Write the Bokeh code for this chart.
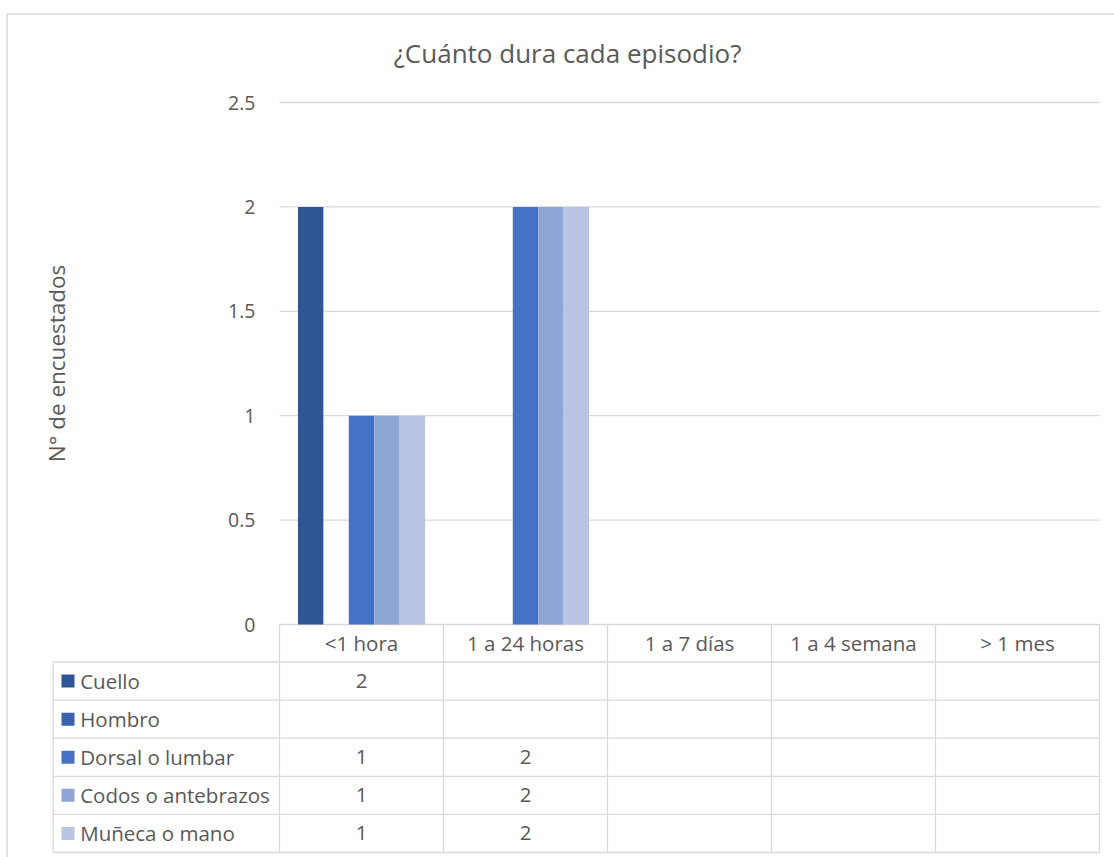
from bokeh.plotting import figure
from bokeh.models import (Range1d, LinearAxis, FixedTicker, NumeralTickFormatter,
                          ColumnDataSource, Label)
from bokeh.embed import file_html
from bokeh.resources import INLINE
from bokeh.core.properties import value

# ---------------- data ----------------
categories = ["<1 hora", "1 a 24 horas", "1 a 7 días", "1 a 4 semana", "> 1 mes"]
series_names = ["Cuello", "Hombro", "Dorsal o lumbar", "Codos o antebrazos", "Muñeca o mano"]
cuello = [2, None, None, None, None]
hombro = [None, None, None, None, None]
dorsal = [1, 2, None, None, None]
codos = [1, 2, None, None, None]
muneca = [1, 2, None, None, None]
series_values = [cuello, hombro, dorsal, codos, muneca]
colors = ["#2F5597", "#3A63AE", "#4472C4", "#8FA5D5", "#B9C3E2"]
y_ticks = [0, 0.5, 1, 1.5, 2, 2.5]
title_text = "¿Cuánto dura cada episodio?"
y_label = "N° de encuestados"

# ---------------- layout constants (pixels) ----------------
FONT = "Open Sans"
TXT = "#595959"
GRID = "#D9D9D9"
FS = "20.5px"
TICK_FS = "19.5px"
W, H = 1114, 857
PLOT_L = 279            # left edge of the category area
ZERO_Y = 624            # pixel row of y = 0
UNIT_PX = 164.0         # pixels per category
Y_PX = 208.8            # pixels per y unit
HEADER_PX = 37.5
ROW_PX = 38.1
TABLE_L_PX = 52.7
n = len(categories)
ns = len(series_names)
bar_w = 0.155


def px_x(px):
    return (px - PLOT_L) / UNIT_PX


def px_y(py):
    return (ZERO_Y - py) / Y_PX


p = figure(width=W, height=H, x_range=Range1d(px_x(0), px_x(W)),
           y_range=Range1d(px_y(H), px_y(0)),
           x_axis_type=None, y_axis_type=None,
           output_backend="svg", toolbar_location=None,
           min_border_left=0, min_border_right=0, min_border_top=0, min_border_bottom=0)
p.outline_line_color = None
p.background_fill_color = "white"
p.border_fill_color = "white"

# ---- outer chart-area border (left and top edges visible) ----
p.segment(x0=[px_x(6.5), px_x(6.5)], x1=[px_x(6.5), px_x(W + 5)],
          y0=[px_y(13.5), px_y(13.5)], y1=[px_y(H + 5), px_y(13.5)],
          line_color=GRID, line_width=1.5)

# ---- title ----
p.add_layout(Label(x=px_x(567), y=px_y(52), text=title_text, text_align="center",
                   text_baseline="middle", text_font=FONT, text_font_size="26px",
                   text_color=TXT))

# ---- y axis, drawn at the left edge of the category area ----
yaxis = LinearAxis(ticker=FixedTicker(ticks=y_ticks),
                   formatter=NumeralTickFormatter(format="0.[0]"),
                   axis_label=y_label, fixed_location=0, bounds=(y_ticks[0], y_ticks[-1]))
yaxis.axis_line_color = None
yaxis.major_tick_line_color = None
yaxis.minor_tick_line_color = None
yaxis.major_tick_out = 0
yaxis.major_tick_in = 0
yaxis.major_label_standoff = 24
yaxis.major_label_text_font = FONT
yaxis.major_label_text_font_size = TICK_FS
yaxis.major_label_text_color = TXT
yaxis.axis_label_text_font = FONT
yaxis.axis_label_text_font_size = "22.5px"
yaxis.axis_label_text_font_style = "normal"
yaxis.axis_label_text_color = TXT
yaxis.axis_label_standoff = 153
p.add_layout(yaxis, "left")

# ---- category axis (header row of the data table) ----
centers = [i + 0.5 for i in range(n)]
xaxis = LinearAxis(ticker=FixedTicker(ticks=centers),
                   major_label_overrides={c: cat for c, cat in zip(centers, categories)},
                   fixed_location=0)
xaxis.axis_line_color = None
xaxis.major_tick_out = 0
xaxis.major_tick_in = 0
xaxis.major_tick_line_color = None
xaxis.minor_tick_line_color = None
xaxis.major_label_standoff = 4
xaxis.major_label_text_font = FONT
xaxis.major_label_text_font_size = FS
xaxis.major_label_text_color = TXT
p.add_layout(xaxis, "below")

# ---- horizontal gridlines over the category area ----
p.segment(x0=[0] * len(y_ticks), x1=[n] * len(y_ticks), y0=y_ticks, y1=y_ticks,
          line_color=GRID, line_width=1.3)

# ---- bars ----
for j, (name, vals, col) in enumerate(zip(series_names, series_values, colors)):
    xs = [i + 0.5 + (j - (ns - 1) / 2) * bar_w for i in range(n)]
    tops = [float("nan") if v is None else v for v in vals]
    src = ColumnDataSource(dict(x=xs, top=tops))
    p.vbar(x="x", top="top", bottom=0, width=bar_w, source=src,
           fill_color=col, line_color=None)

# ---- data table ----
def row_y(r):
    return -(HEADER_PX + r * ROW_PX) / Y_PX


xL = px_x(TABLE_L_PX)
hx = list(range(n + 1))
p.segment(x0=hx, x1=hx, y0=[0] * len(hx), y1=[row_y(0)] * len(hx), line_color=GRID, line_width=1.3)
hy = [row_y(r) for r in range(ns + 1)]
p.segment(x0=[xL] * len(hy), x1=[n] * len(hy), y0=hy, y1=hy, line_color=GRID, line_width=1.3)
vx = [xL] + list(range(n + 1))
p.segment(x0=vx, x1=vx, y0=[row_y(0)] * len(vx), y1=[row_y(ns)] * len(vx),
          line_color=GRID, line_width=1.3)

row_mid = [(row_y(r) + row_y(r + 1)) / 2 for r in range(ns)]
p.scatter(x=[xL + 14.8 / UNIT_PX] * ns, y=row_mid, marker="square", size=13,
          fill_color=colors, line_color=None)
p.text(x=[xL + 27 / UNIT_PX] * ns, y=row_mid, text=series_names,
       text_font=value(FONT), text_font_size=FS, text_color=TXT,
       text_align="left", text_baseline="middle")

tx, ty, tt = [], [], []
for r, vals in enumerate(series_values):
    for i, v in enumerate(vals):
        if v is not None:
            tx.append(i + 0.5); ty.append(row_mid[r]); tt.append(str(v))
p.text(x=tx, y=ty, text=tt, text_font=value(FONT), text_font_size=FS, text_color=TXT,
       text_align="center", text_baseline="middle")

open("out.html", "w").write(file_html(p, INLINE))
